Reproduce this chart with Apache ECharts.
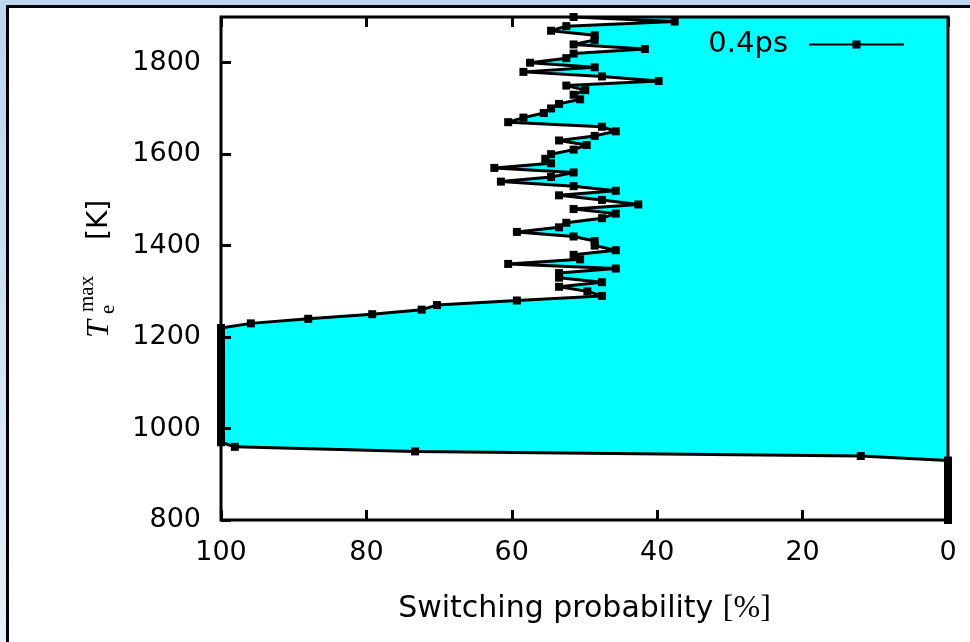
<!DOCTYPE html>
<html><head><meta charset="utf-8">
<script src="https://cdn.jsdelivr.net/npm/echarts@6/dist/echarts.min.js"></script>
<style>
html,body{margin:0;padding:0;width:970px;height:642px;overflow:hidden;background:linear-gradient(to bottom,#bcd4ee,#e6eff9);}
#panel{position:absolute;left:6px;top:5px;width:1000px;height:700px;border:3px solid #000;background:#fff;}
#chart{position:absolute;left:0;top:0;width:970px;height:642px;}
</style></head><body>
<div id="panel"></div><div id="chart"></div>
<script>
// Electron temperature categories [K]
const temperatures = [
  800, 810, 820, 830, 840, 850, 860, 870, 880, 890,
  900, 910, 920, 930, 940, 950, 960, 970, 980, 990,
  1000, 1010, 1020, 1030, 1040, 1050, 1060, 1070, 1080, 1090,
  1100, 1110, 1120, 1130, 1140, 1150, 1160, 1170, 1180, 1190,
  1200, 1210, 1220, 1230, 1240, 1250, 1260, 1270, 1280, 1290,
  1300, 1310, 1320, 1330, 1340, 1350, 1360, 1370, 1380, 1390,
  1400, 1410, 1420, 1430, 1440, 1450, 1460, 1470, 1480, 1490,
  1500, 1510, 1520, 1530, 1540, 1550, 1560, 1570, 1580, 1590,
  1600, 1610, 1620, 1630, 1640, 1650, 1660, 1670, 1680, 1690,
  1700, 1710, 1720, 1730, 1740, 1750, 1760, 1770, 1780, 1790,
  1800, 1810, 1820, 1830, 1840, 1850, 1860, 1870, 1880, 1890,
  1900
];
// Switching probability [%] for each temperature (pulse 0.4ps)
const probability = [
  0, 0, 0, 0, 0, 0, 0, 0, 0, 0,
  0, 0, 0, 0, 12.0, 73.3, 98.1, 100, 100, 100,
  100, 100, 100, 100, 100, 100, 100, 100, 100, 100,
  100, 100, 100, 100, 100, 100, 100, 100, 100, 100,
  100, 100, 100, 95.9, 88.0, 79.2, 72.4, 70.3, 59.3, 47.6,
  49.6, 53.5, 47.6, 53.5, 53.5, 45.7, 60.5, 50.6, 51.5, 45.7,
  48.6, 48.6, 51.5, 59.3, 53.5, 52.5, 47.6, 45.7, 51.5, 42.6,
  47.6, 53.5, 45.7, 51.5, 61.5, 54.6, 51.5, 62.4, 54.6, 55.4,
  54.6, 51.5, 49.7, 53.5, 48.6, 45.7, 47.6, 60.5, 58.4, 55.6,
  54.6, 53.5, 50.6, 51.5, 49.9, 52.5, 39.8, 47.6, 58.4, 48.6,
  57.5, 52.5, 51.5, 41.7, 51.5, 48.6, 48.6, 54.6, 52.5, 37.6,
  51.5
];
const seriesName = '0.4ps';
const xLabelText = 'Switching probability ';
const xUnitText = '[%]';

const SANS = 'DejaVu Sans';
const SERIF = 'Liberation Serif';

const chart = echarts.init(document.getElementById('chart'), null, {renderer: 'canvas'});
chart.setOption({
  animation: false,
  backgroundColor: 'transparent',
  grid: {left: 221, right: 22, top: 17, bottom: 122, show: true,
         borderColor: '#000', borderWidth: 3, backgroundColor: 'transparent', z: 10},
  legend: {
    data: [seriesName], right: 60, top: 25, align: 'right',
    itemWidth: 95, itemHeight: 10,
    textStyle: {fontSize: 29, fontFamily: SANS, color: '#000', padding: [0, 16, 0, 0]}
  },
  xAxis: [
    {type: 'value', min: 0, max: 100, interval: 20, inverse: true, position: 'bottom', z: 5,
     axisLine: {show: false, onZero: false},
     axisTick: {show: true, inside: true, length: 10, lineStyle: {color: '#000', width: 3}},
     splitLine: {show: false},
     axisLabel: {color: '#000', fontSize: 27, fontFamily: SANS, margin: 19},
     name: '{a|' + xLabelText + '}{b|' + xUnitText + '}',
     nameLocation: 'middle', nameGap: 73,
     nameTextStyle: {rich: {
       a: {fontSize: 30, fontFamily: SANS, color: '#000'},
       b: {fontSize: 32, fontFamily: SERIF, color: '#000'}
     }}},
    {type: 'value', min: 0, max: 100, interval: 20, inverse: true, position: 'top', z: 1,
     axisLine: {show: false, onZero: false},
     axisTick: {show: true, inside: true, length: 10, lineStyle: {color: '#000', width: 3}},
     splitLine: {show: false},
     axisLabel: {show: false}}
  ],
  yAxis: [
    {type: 'category', data: temperatures, boundaryGap: false, position: 'left', z: 5,
     axisLine: {show: false, onZero: false},
     axisTick: {show: true, inside: true, length: 10, interval: 19, lineStyle: {color: '#000', width: 3}},
     axisLabel: {interval: 19, color: '#000', fontSize: 27, fontFamily: SANS, margin: 20},
     splitLine: {show: false}}
  ],
  graphic: [{
    type: 'group', x: 100, y: 338, rotation: Math.PI / 2,
    children: [
      {type: 'text', x: 0, y: 0, style: {text: 'T', font: 'italic 32px "Liberation Serif"', fill: '#000', align: 'left', verticalAlign: 'middle'}},
      {type: 'text', x: 24, y: 8, style: {text: 'e', font: '21px "Liberation Serif"', fill: '#000', align: 'left', verticalAlign: 'middle'}},
      {type: 'text', x: 26, y: -13, style: {text: 'max', font: '21px "Liberation Serif"', fill: '#000', align: 'left', verticalAlign: 'middle'}},
      {type: 'text', x: 98, y: 0, style: {text: '[K]', font: '28px "DejaVu Sans"', fill: '#000', align: 'left', verticalAlign: 'middle'}}
    ]
  }],
  series: [{
    name: seriesName, type: 'line', xAxisIndex: 0, yAxisIndex: 0,
    data: probability, symbol: 'rect', symbolSize: 8, showAllSymbol: true,
    lineStyle: {color: '#000', width: 3}, itemStyle: {color: '#000'},
    areaStyle: {color: '#00ffff', opacity: 1}, z: 2
  }]
});
</script>
</body></html>
